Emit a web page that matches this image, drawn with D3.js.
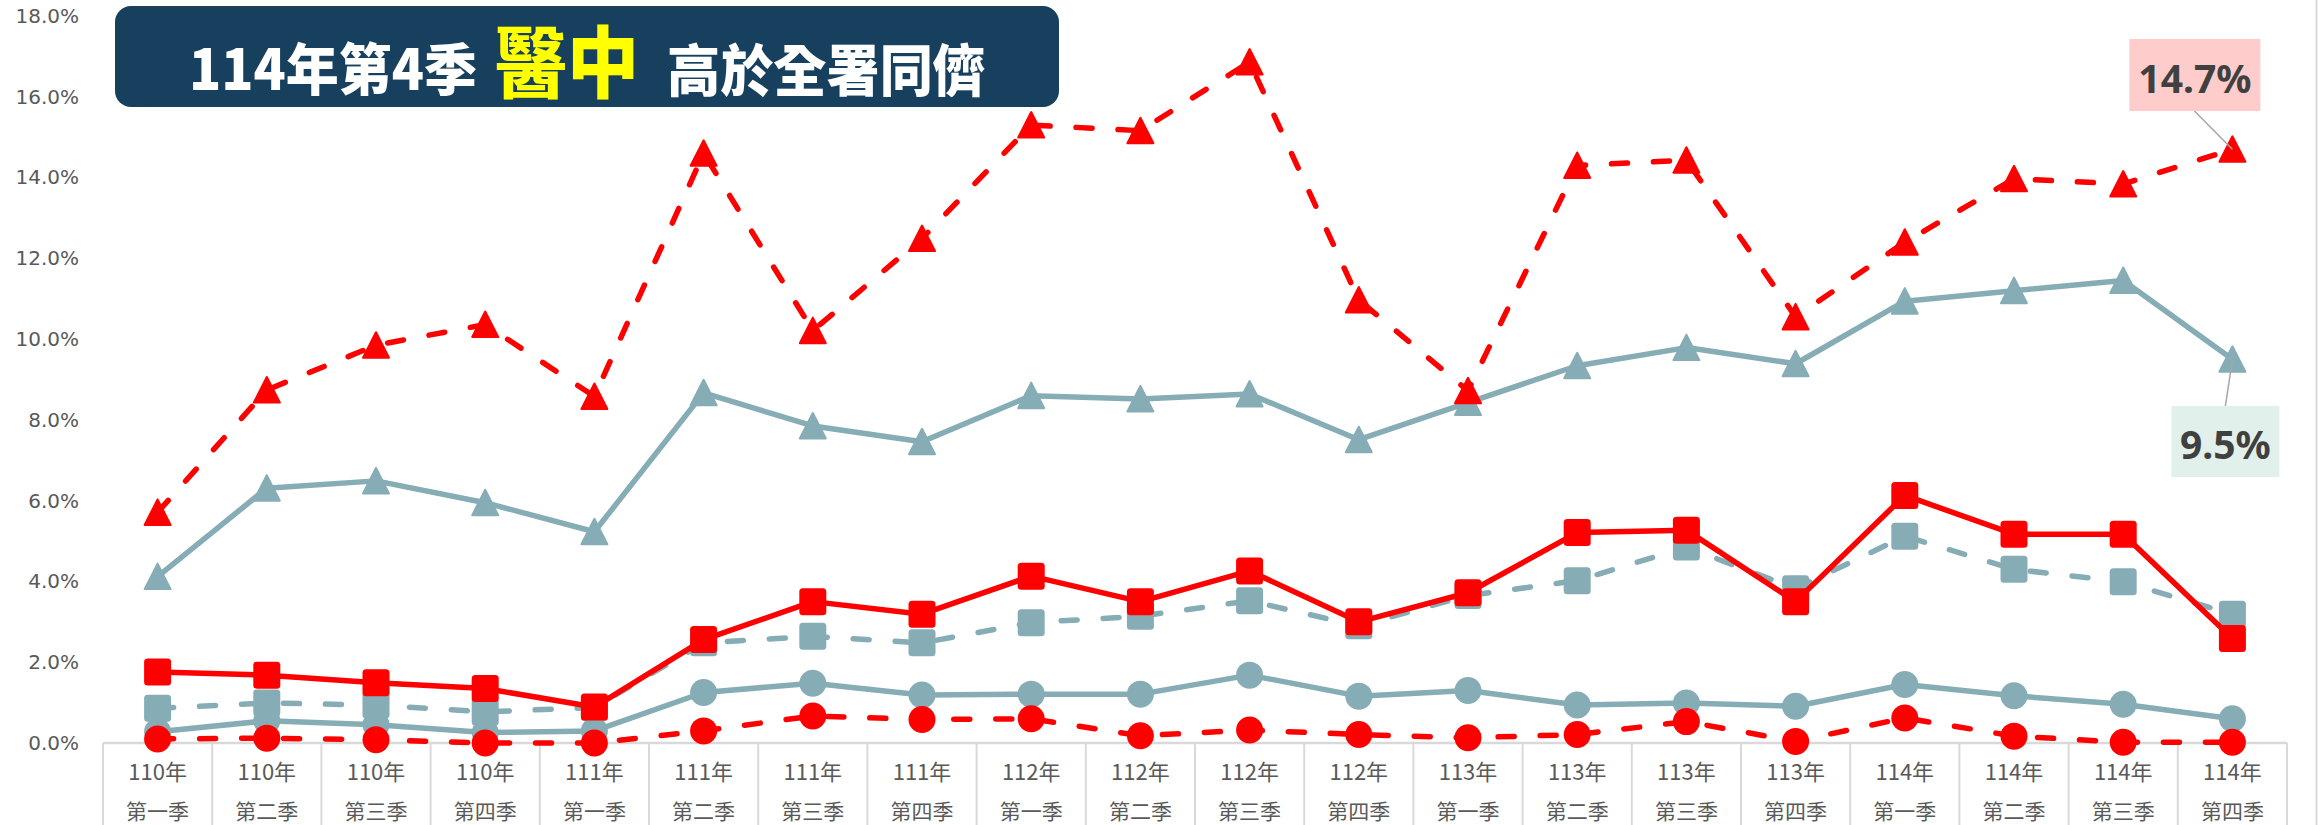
<!DOCTYPE html>
<html>
<head>
<meta charset="utf-8">
<script src="https://cdn.jsdelivr.net/npm/d3@7"></script>
<style>
  body { margin: 0; background: #fff; }
  svg { display: block; }
</style>
</head>
<body>
<svg id="chart"></svg>
<script>
// quarters (x axis, two lines)
var years = ["110年","110年","110年","110年","111年","111年","111年","111年",
             "112年","112年","112年","112年","113年","113年","113年","113年",
             "114年","114年","114年","114年"];
var quarters = ["第一季","第二季","第三季","第四季","第一季","第二季","第三季","第四季",
                "第一季","第二季","第三季","第四季","第一季","第二季","第三季","第四季",
                "第一季","第二季","第三季","第四季"];

// series values (%)
var redTri  = [5.71, 8.74, 9.85, 10.36, 8.58, 14.6, 10.21, 12.49, 15.3, 15.16, 16.86, 10.97, 8.72, 14.3, 14.43, 10.55, 12.4, 13.97, 13.84, 14.7];
var tealTri = [4.12, 6.31, 6.49, 5.95, 5.23, 8.67, 7.85, 7.46, 8.6, 8.52, 8.64, 7.51, 8.43, 9.34, 9.79, 9.39, 10.94, 11.2, 11.45, 9.5];
var redSq   = [1.76, 1.68, 1.49, 1.35, 0.89, 2.56, 3.5, 3.19, 4.13, 3.5, 4.26, 3.0, 3.72, 5.21, 5.27, 3.5, 6.13, 5.17, 5.17, 2.59];
var tealSq  = [0.86, 0.99, 0.94, 0.77, 0.88, 2.48, 2.64, 2.48, 2.98, 3.14, 3.52, 2.9, 3.65, 4.02, 4.85, 3.82, 5.12, 4.3, 3.99, 3.19];
var tealCir = [0.28, 0.55, 0.45, 0.26, 0.3, 1.25, 1.48, 1.19, 1.21, 1.21, 1.68, 1.16, 1.3, 0.94, 0.99, 0.91, 1.45, 1.17, 0.96, 0.6];
var redCir  = [0.1, 0.12, 0.08, 0.0, 0.0, 0.3, 0.67, 0.58, 0.6, 0.18, 0.32, 0.21, 0.13, 0.21, 0.53, 0.04, 0.62, 0.17, 0.02, 0.02];

var yTicks = [0, 2, 4, 6, 8, 10, 12, 14, 16, 18];

var width = 2318, height = 825;
var red = "#FF0000", teal = "#86ADB6", grid = "#D9D9D9";

var svg = d3.select("#chart").attr("width", width).attr("height", height);
svg.append("rect").attr("width", width).attr("height", height).attr("fill", "#fff");

var x = d3.scaleBand().domain(d3.range(years.length)).range([103, 2287]);
var y = d3.scaleLinear().domain([0, 18]).range([743, 16]);
var cx = function(i){ return x(i) + x.bandwidth()/2; };

// right border of chart area
svg.append("line").attr("x1", 2316.5).attr("x2", 2316.5).attr("y1", 0).attr("y2", height)
   .attr("stroke", grid).attr("stroke-width", 2);

// y axis
var yAxis = svg.append("g").attr("transform", "translate(103,0)")
   .call(d3.axisLeft(y).tickValues(yTicks).tickSize(0).tickPadding(24)
         .tickFormat(function(d){ return d.toFixed(1) + "%"; }));
yAxis.select(".domain").remove();
yAxis.selectAll("text").attr("font-family", "DejaVu Sans").attr("font-size", 20).attr("fill", "#595959");

// x axis line + category dividers
svg.append("line").attr("x1", x.range()[0]).attr("x2", x.range()[1])
   .attr("y1", y(0)).attr("y2", y(0)).attr("stroke", grid).attr("stroke-width", 2.5);
svg.selectAll(".divider").data(d3.range(years.length + 1)).enter().append("line")
   .attr("x1", function(d){ return x.range()[0] + d * x.step(); })
   .attr("x2", function(d){ return x.range()[0] + d * x.step(); })
   .attr("y1", y(0)).attr("y2", height)
   .attr("stroke", grid).attr("stroke-width", 2);

svg.selectAll(".year").data(years).enter().append("text")
   .text(function(d){ return d; })
   .attr("x", function(d,i){ return cx(i); }).attr("y", 770)
   .attr("text-anchor", "middle").attr("dominant-baseline", "central")
   .attr("font-family", "Noto Sans CJK TC").attr("font-size", 22).attr("fill", "#595959");
svg.selectAll(".quarter").data(quarters).enter().append("text")
   .text(function(d){ return d; })
   .attr("x", function(d,i){ return cx(i); }).attr("y", 810)
   .attr("text-anchor", "middle").attr("dominant-baseline", "central")
   .attr("font-family", "Noto Sans CJK TC").attr("font-size", 21).attr("fill", "#595959");

// series
var line = d3.line().x(function(d,i){ return cx(i); }).y(function(d){ return y(d); });
var series = [
  {data: tealTri, color: teal, dash: null,    shape: "tri"},
  {data: tealSq,  color: teal, dash: "16,26", shape: "sq"},
  {data: tealCir, color: teal, dash: null,    shape: "cir"},
  {data: redTri,  color: red,  dash: "16,26", shape: "tri"},
  {data: redSq,   color: red,  dash: null,    shape: "sq"},
  {data: redCir,  color: red,  dash: "16,26", shape: "cir"}
];

series.forEach(function(s){
  var g = svg.append("g");
  g.append("path").datum(s.data).attr("d", line)
   .attr("fill", "none").attr("stroke", s.color).attr("stroke-width", 5.5)
   .attr("stroke-linecap", "round").attr("stroke-linejoin", "round")
   .attr("stroke-dasharray", s.dash);
  var m = g.selectAll(".m").data(s.data).enter();
  if (s.shape == "tri") {
    m.append("path")
     .attr("d", "M0,-13L13,12.5L-13,12.5Z")
     .attr("transform", function(d,i){ return "translate(" + cx(i) + "," + y(d) + ")"; })
     .attr("fill", s.color).attr("stroke", s.color).attr("stroke-width", 2).attr("stroke-linejoin", "round");
  } else if (s.shape == "sq") {
    m.append("rect")
     .attr("x", function(d,i){ return cx(i) - 13.5; })
     .attr("y", function(d){ return y(d) - 13.5; })
     .attr("width", 27).attr("height", 27).attr("rx", 3.5)
     .attr("fill", s.color);
  } else {
    m.append("circle")
     .attr("cx", function(d,i){ return cx(i); })
     .attr("cy", function(d){ return y(d); })
     .attr("r", 13.5).attr("fill", s.color);
  }
});

// gap arrow between last two triangle values
var last = years.length - 1;
var ax = cx(last) + 41, top = y(14.15), bot = y(9.6);
svg.append("path")
   .attr("d", "M" + ax + "," + top + "L" + (ax+43) + "," + (top+41) + "L" + (ax+21) + "," + (top+41) +
              "L" + (ax+21) + "," + (bot-43) + "L" + (ax+43) + "," + (bot-43) + "L" + ax + "," + bot +
              "L" + (ax-43) + "," + (bot-43) + "L" + (ax-21) + "," + (bot-43) + "L" + (ax-21) + "," + (top+41) +
              "L" + (ax-43) + "," + (top+41) + "Z")
   .attr("fill", "#999999");

// data labels for the last quarter
var labels = [
  {value: redTri[last],  bg: "#FFCCCC", bx: -103, by: 39,  bw: 131, bh: 72, lx: -38, ly: 111},
  {value: tealTri[last], bg: "#E2F0EB", bx: -61,  by: 406, bw: 108, bh: 71, lx: -7,  ly: 406}
];
labels.forEach(function(l){
  var px = cx(last);
  svg.append("line").attr("x1", px + l.lx).attr("y1", l.ly)
     .attr("x2", px).attr("y2", y(l.value))
     .attr("stroke", "#A6A6A6").attr("stroke-width", 1.5);
  svg.append("rect").attr("x", px + l.bx).attr("y", l.by).attr("width", l.bw).attr("height", l.bh)
     .attr("fill", l.bg);
  svg.append("text").text(l.value.toFixed(1) + "%")
     .attr("x", px + l.bx + l.bw/2).attr("y", l.by + l.bh/2 + 2)
     .attr("text-anchor", "middle").attr("dominant-baseline", "central")
     .attr("font-family", "Noto Sans").attr("font-weight", "bold").attr("font-size", 39)
     .attr("fill", "#404040");
});

// title banner
svg.append("rect").attr("x", 115).attr("y", 6).attr("width", 944).attr("height", 101).attr("rx", 16)
   .attr("fill", "#17405E");
var tf = "Noto Sans CJK TC";
svg.append("text").text("114年第4季")
   .attr("x", 189).attr("y", 65).attr("dominant-baseline", "central")
   .attr("textLength", 288).attr("lengthAdjust", "spacingAndGlyphs")
   .attr("font-family", tf).attr("font-weight", 900).attr("font-size", 56).attr("fill", "#fff");
svg.append("text").text("醫中")
   .attr("x", 495).attr("y", 58).attr("dominant-baseline", "central")
   .attr("textLength", 144).attr("lengthAdjust", "spacingAndGlyphs")
   .attr("font-family", tf).attr("font-weight", 900).attr("font-size", 78).attr("fill", "#FFFF00");
svg.append("text").text("高於全署同儕")
   .attr("x", 667).attr("y", 66).attr("dominant-baseline", "central")
   .attr("textLength", 319).attr("lengthAdjust", "spacingAndGlyphs")
   .attr("font-family", tf).attr("font-weight", 900).attr("font-size", 56).attr("fill", "#fff");
</script>
</body>
</html>
